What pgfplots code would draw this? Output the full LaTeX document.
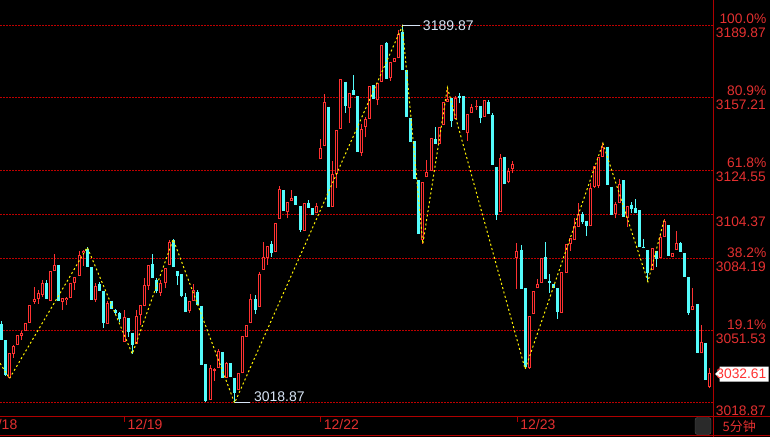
\documentclass[border=0pt]{standalone}
\usepackage{pgfplots}
\usepackage{pgfplotstable}
\pgfplotsset{compat=1.18}
\usepackage{fontspec}
\setmainfont{Liberation Sans}
\newfontfamily\cjk{Noto Sans CJK SC}
\definecolor{upred}{RGB}{255,50,50}
\definecolor{dncyan}{RGB}{84,252,252}
\definecolor{lvl}{RGB}{190,0,0}
\definecolor{txtred}{RGB}{228,48,48}
\definecolor{axred}{RGB}{175,0,0}
\definecolor{annot}{RGB}{215,228,245}

\pgfplotstableread{
i o c l h
2 3030.1 3041.4 3030.0 3041.4
3 3041.1 3044.7 3039.3 3045.2
4 3045.2 3049.6 3045.2 3049.6
5 3049.3 3050.5 3047.4 3051.5
6 3051.5 3055.0 3051.5 3055.0
7 3055.3 3063.2 3055.3 3063.2
8 3064.8 3065.9 3063.8 3071.3
9 3066.2 3068.9 3063.8 3070.1
10 3067.9 3073.4 3067.1 3074.7
12 3065.1 3078.6 3065.1 3078.6
13 3078.9 3081.6 3078.9 3086.5
15 3064.8 3066.4 3061.0 3066.4
16 3065.6 3066.6 3063.3 3067.1
17 3066.6 3073.2 3066.6 3073.2
18 3073.2 3075.9 3070.1 3075.9
19 3076.6 3086.0 3076.6 3088.0
20 3087.0 3088.0 3081.0 3088.3
23 3065.6 3071.9 3064.8 3073.4
26 3054.7 3064.4 3054.7 3065.3
30 3046.7 3057.7 3046.7 3061.0
33 3045.5 3058.3 3045.5 3061.0
34 3058.8 3063.3 3054.2 3063.3
35 3063.0 3072.4 3063.0 3075.4
36 3071.9 3081.5 3070.1 3081.5
39 3068.9 3073.4 3067.4 3074.7
40 3073.2 3080.0 3070.9 3080.0
41 3081.5 3092.0 3081.5 3092.8
46 3060.6 3065.1 3059.8 3065.1
47 3065.3 3070.1 3065.3 3072.8
51 3020.2 3034.9 3020.2 3036.1
52 3033.5 3034.2 3029.0 3034.9
53 3034.9 3042.6 3034.9 3043.5
55 3030.1 3037.1 3030.1 3037.5
58 3024.8 3032.3 3024.8 3032.3
59 3032.3 3049.3 3032.3 3049.3
60 3048.9 3054.2 3048.9 3054.2
61 3055.0 3065.9 3055.0 3068.3
63 3062.5 3077.4 3062.5 3078.3
64 3079.2 3085.2 3079.2 3092.0
65 3084.5 3090.1 3081.5 3090.1
67 3087.5 3100.4 3087.5 3100.4
68 3102.2 3115.8 3102.2 3117.3
70 3105.6 3110.2 3102.6 3110.2
71 3110.6 3111.7 3110.6 3115.5
74 3097.0 3109.5 3097.0 3109.5
77 3104.9 3108.2 3104.9 3109.7
78 3129.4 3134.4 3129.4 3138.6
79 3135.4 3155.3 3135.4 3159.0
81 3107.9 3122.7 3107.9 3128.6
82 3122.6 3142.7 3116.3 3142.7
83 3143.3 3165.7 3143.3 3165.7
85 3152.5 3159.6 3146.0 3159.6
88 3132.4 3143.2 3131.0 3145.4
89 3144.2 3147.6 3139.4 3148.7
90 3147.6 3162.7 3147.6 3162.7
92 3156.3 3164.2 3154.0 3164.2
93 3164.5 3181.3 3164.5 3181.3
95 3166.1 3173.7 3165.1 3173.7
96 3173.7 3175.2 3173.7 3175.2
97 3175.2 3186.2 3175.2 3188.1
103 3092.8 3119.2 3091.0 3119.2
104 3121.2 3123.8 3121.2 3129.1
105 3124.2 3138.9 3124.2 3138.9
107 3136.3 3144.2 3136.3 3144.2
108 3145.0 3155.5 3145.0 3155.5
109 3155.5 3156.6 3155.5 3161.9
111 3147.6 3157.1 3147.6 3158.1
114 3141.5 3149.8 3137.8 3149.8
115 3150.5 3153.0 3150.5 3154.5
116 3153.0 3153.6 3151.8 3156.3
118 3148.7 3156.3 3148.7 3156.3
122 3105.6 3130.1 3105.6 3131.7
124 3119.2 3124.1 3118.5 3125.6
125 3125.0 3127.3 3123.1 3128.6
126 3084.8 3088.0 3070.4 3091.6
129 3034.6 3058.3 3034.2 3058.3
130 3059.2 3069.7 3059.2 3069.7
131 3070.9 3072.8 3070.9 3075.1
132 3073.4 3084.8 3073.4 3084.8
137 3059.6 3078.2 3059.6 3078.2
138 3078.0 3090.9 3078.0 3090.9
139 3091.0 3093.7 3088.0 3093.7
140 3092.9 3099.2 3092.9 3102.6
141 3098.8 3104.6 3098.8 3109.5
144 3099.2 3116.3 3099.2 3118.8
145 3117.0 3126.4 3116.3 3126.4
146 3117.3 3130.3 3116.3 3130.3
147 3130.6 3134.9 3130.6 3136.7
150 3104.6 3109.0 3102.6 3110.2
151 3109.5 3118.2 3109.5 3120.3
153 3102.6 3108.2 3098.8 3108.2
159 3079.2 3089.0 3079.2 3089.0
161 3084.5 3094.3 3084.5 3095.1
162 3094.3 3101.6 3094.3 3102.2
164 3085.0 3087.0 3085.0 3087.0
165 3088.3 3091.6 3088.3 3097.0
169 3061.0 3062.9 3061.0 3070.9
171 3041.4 3046.7 3041.4 3054.2
173 3026.3 3032.61 3025.5 3034.6
}\upt

\pgfplotstableread{
i o c l h
0 3054.7 3047.4 3047.4 3056.2
1 3047.4 3031.6 3031.2 3047.4
11 3073.4 3066.2 3066.2 3074.7
14 3081.6 3065.1 3065.1 3081.6
21 3088.6 3080.7 3080.7 3089.5
22 3080.4 3065.6 3065.6 3080.4
24 3072.8 3069.8 3069.8 3073.9
25 3069.7 3055.0 3052.8 3069.7
27 3065.3 3061.4 3061.4 3065.3
28 3061.0 3059.8 3058.8 3061.5
29 3059.6 3056.8 3055.7 3060.3
31 3057.3 3051.2 3048.9 3057.3
32 3050.8 3045.2 3041.1 3050.8
37 3081.9 3075.4 3075.4 3086.5
38 3074.7 3069.7 3068.6 3075.4
42 3092.8 3080.4 3080.4 3093.1
43 3078.7 3076.5 3072.4 3078.7
44 3077.2 3067.4 3066.8 3077.2
45 3067.1 3060.3 3060.3 3068.6
48 3069.4 3063.3 3063.3 3070.1
49 3062.9 3036.1 3036.1 3062.9
50 3036.5 3019.9 3019.5 3036.5
54 3042.1 3030.1 3030.1 3042.1
56 3037.1 3030.5 3030.5 3037.1
57 3030.3 3023.5 3018.87 3030.3
62 3065.9 3061.0 3059.2 3067.9
66 3091.0 3087.0 3085.0 3092.5
69 3115.5 3106.1 3106.1 3115.5
72 3112.8 3108.7 3108.7 3112.8
73 3108.2 3097.3 3096.6 3108.2
75 3109.7 3107.2 3107.2 3110.9
76 3107.2 3104.1 3104.1 3107.2
80 3153.3 3107.9 3107.9 3153.3
84 3164.6 3153.6 3150.5 3164.6
86 3160.8 3158.6 3158.6 3167.6
87 3158.1 3132.9 3132.9 3158.1
91 3163.1 3156.6 3156.6 3163.1
94 3182.3 3166.0 3166.0 3182.6
98 3187.3 3169.9 3169.9 3189.87
99 3169.9 3148.7 3148.7 3169.9
100 3148.3 3137.4 3137.4 3148.3
101 3137.7 3120.3 3120.3 3137.7
102 3120.0 3095.5 3095.5 3120.0
106 3138.6 3136.3 3136.3 3143.9
110 3157.1 3146.9 3144.2 3157.1
112 3158.1 3157.1 3154.8 3159.6
113 3158.1 3142.7 3142.7 3158.1
117 3153.6 3148.3 3145.7 3153.6
119 3155.5 3150.0 3150.0 3156.3
120 3149.5 3126.8 3126.8 3150.3
121 3126.1 3104.1 3101.9 3126.1
123 3130.6 3118.1 3118.1 3130.6
127 3088.3 3070.6 3070.6 3090.5
128 3071.0 3035.3 3034.2 3071.0
133 3085.1 3075.1 3075.1 3091.9
134 3074.2 3073.4 3068.9 3077.4
135 3072.8 3070.9 3070.9 3072.8
136 3071.0 3060.3 3057.0 3071.0
142 3104.5 3100.8 3100.1 3105.6
143 3101.6 3099.2 3094.6 3101.6
148 3135.1 3117.8 3117.8 3135.1
149 3117.0 3104.1 3104.1 3117.0
152 3120.0 3103.4 3103.4 3120.0
154 3108.7 3106.7 3104.9 3110.2
155 3107.2 3105.2 3105.2 3111.3
156 3106.4 3089.8 3089.8 3106.4
157 3089.8 3089.0 3089.0 3093.3
158 3088.3 3078.0 3073.9 3088.3
160 3088.0 3084.0 3080.7 3088.0
163 3099.6 3085.5 3085.5 3099.6
166 3091.3 3087.5 3087.5 3092.0
167 3087.0 3076.2 3076.2 3087.0
168 3075.9 3059.8 3058.8 3075.9
170 3063.8 3041.7 3041.7 3063.8
172 3046.2 3029.3 3029.3 3046.2
}\dnt

\begin{document}
\begin{tikzpicture}[x=1pt,y=1pt]
\useasboundingbox (0,0) rectangle (770,437);
\fill[black] (0,0) rectangle (770,437);
\begin{axis}[name=ax, at={(0pt,21pt)}, anchor=south west, scale only axis,
  width=713pt, height=416pt,
  xmin=-0.318, xmax=173.9, ymin=3012.97, ymax=3201.66,
  xtick=\empty, ytick=\empty, axis line style={draw=none},
  clip=true]
% Fibonacci levels
\pgfplotsinvokeforeach{3189.87,3157.21,3124.55,3104.37,3084.19,3051.53,3018.87}{
  \addplot[lvl, line width=1pt, dash pattern=on 1.5pt off 1.5pt] coordinates {(-0.318,#1) (173.9,#1)};
}
% down candles
\addplot[dncyan, line width=1pt, no markers, quiver={u=0, v={\thisrow{h}-\thisrow{l}}}] table[x=i, y=l] {\dnt};
\addplot[dncyan, line width=3pt, no markers, quiver={u=0, v={\thisrow{c}-\thisrow{o}}}] table[x=i, y=o] {\dnt};
% up candles (hollow)
\addplot[upred, line width=1pt, no markers, quiver={u=0, v={\thisrow{h}-\thisrow{l}}}] table[x=i, y=l] {\upt};
\addplot[upred, line width=3pt, no markers, quiver={u=0, v={\thisrow{c}-\thisrow{o}}}] table[x=i, y=o] {\upt};
\addplot[black, line width=1pt, no markers, quiver={u=0, v={max(\thisrow{c}-\thisrow{o}-0.9072,0)}}] table[x=i, y expr={\thisrow{o}+0.4536}] {\upt};
% zigzag
\addplot[yellow, line width=1pt, dash pattern=on 2pt off 2.5pt] coordinates {
(-0.3,3036.9) (2,3030.0) (21,3089.5) (32,3041.1) (42,3093.1) (57,3018.87)
(98,3189.87) (103,3091.0) (109,3161.9) (128,3034.2) (147,3136.7) (158,3073.9) (162,3102.2)};
% annotations
\draw[annot, line width=1pt] (axis cs:98,3189.87) -- (axis cs:102.3,3189.87)
  node[anchor=west, inner sep=0, xshift=2.5pt, text=annot, font=\fontsize{14}{16}\selectfont] {3189.87};
\draw[annot, line width=1pt] (axis cs:57,3018.87) -- (axis cs:60.8,3018.87);
\node[anchor=south west, inner sep=0, text=annot, font=\fontsize{14}{16}\selectfont] at (axis cs:61.7,3019.5) {3018.87};
\end{axis}
% frame lines
\draw[axred, line width=1pt] (0,21) -- (770,21);
\draw[axred, line width=1pt] (0,1.5) -- (770,1.5);
\draw[axred, line width=1pt] (713.5,0) -- (713.5,437);
% date ticks and labels
\foreach \tx in {124.1,320.5,517.0} {\draw[axred, line width=1pt] (\tx,21) -- (\tx,15.5);}
\begin{scope}[every node/.style={inner sep=0, text=txtred, font=\fontsize{14}{16}\selectfont}]
\node[anchor=east] at (17.5,12.3) {12/18};
\node[anchor=west] at (127.3,12.3) {12/19};
\node[anchor=west] at (323.7,12.3) {12/22};
\node[anchor=west] at (520.2,12.3) {12/23};
\end{scope}
% right labels
\begin{scope}[every node/.style={inner sep=0, anchor=east, text=txtred, font=\fontsize{13.8}{15}\selectfont}]
\node at (766.5,418.5) {100.0\%};
\node at (766,404) {3189.87};
\node at (766.5,346.5) {80.9\%};
\node at (766,332.3) {3157.21};
\node at (766.5,274.5) {61.8\%};
\node at (766,260) {3124.55};
\node at (766,215) {3104.37};
\node at (766.5,184) {38.2\%};
\node at (766,170) {3084.19};
\node at (766.5,112.5) {19.1\%};
\node at (766,98) {3051.53};
\node at (766,26.5) {3018.87};
\end{scope}
% last price box
\fill[white] (715,63) -- (719.5,67.5) -- (719.5,70.5) -- (768.5,70.5) -- (768.5,55.5) -- (719.5,55.5) -- (719.5,58.5) -- cycle;
\node[anchor=east, inner sep=0, text=upred, font=\fontsize{13.8}{15}\selectfont] at (766.5,63) {3032.61};
% period selector
\draw[fill={rgb,255:red,42;green,42;blue,42}, draw={rgb,255:red,85;green,85;blue,85}, rounded corners=2.5pt] (695,2.5) rectangle (711,19.5);
\node[anchor=west, inner sep=0, text=txtred, font=\cjk\fontsize{13}{15}\selectfont] at (722.5,10.5) {5分钟};
\end{tikzpicture}
\end{document}
